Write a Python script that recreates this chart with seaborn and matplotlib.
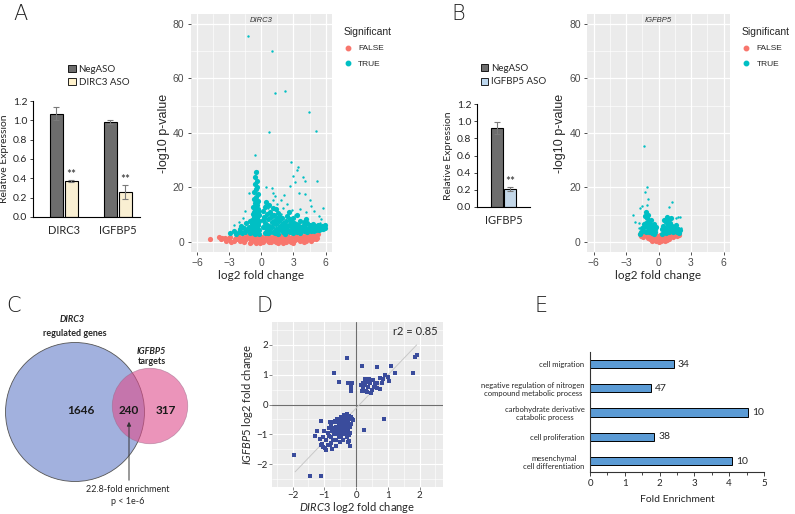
import numpy as np
import pandas as pd
import matplotlib
matplotlib.use("Agg")
import matplotlib.pyplot as plt
import seaborn as sns
from matplotlib.patches import Circle, Patch
from matplotlib.lines import Line2D

# ---------------- data ----------------
# panel A bars
genes_a = ["DIRC3", "IGFBP5"]
neg_a = [1.07, 0.98]
neg_a_err = [0.07, 0.02]
aso_a = [0.37, 0.26]
aso_a_err = [0.01, 0.07]

# panel B bars
genes_b = ["IGFBP5"]
neg_b = [0.92]
neg_b_err = [0.07]
aso_b = [0.21]
aso_b_err = [0.02]

# panel A volcano (DIRC3) - not significant band
dirc3_false_x = [-4.8, -4.0, -3.7, -3.4, -3.1, -3.3, -2.9, -2.6, -2.4, -2.2, -2.0, -1.9, -1.7, -1.5, -1.3,
                 -1.2, -1.0, -0.9, -0.7, -0.6, -0.4, -0.3, -0.2, 0.0, 0.1, 0.2, 0.3, 0.5, 0.6, 0.8, 0.9,
                 1.0, 1.2, 1.3, 1.5, 1.6, 1.8, 1.9, 2.1, 2.3, 2.4, 2.6, 2.8, 2.9, 3.1, 3.2, 3.4, 3.6, 3.7,
                 3.9, 4.1, 4.2, 4.4, 4.5, 4.7, 4.8, 5.0, 5.1, 5.3, -1.1, -2.8, 0.7, -0.5, 1.4, 2.0, 3.0,
                 -1.6, -0.1, 4.0, -2.3, -0.8, 1.7, 2.7, 3.5, 4.6, -3.0, -2.5, -1.4, 0.4, 1.1, 2.2, 3.3,
                 4.3, 5.2, -3.8, -0.35, 2.5]
dirc3_false_y = [0.9, 1.7, 1.5, 1.3, 1.0, 0.3, 1.9, 0.5, 1.4, 2.1, 0.2, 1.0, 1.8, 0.6, 2.3,
                 1.3, 0.1, 2.0, 0.8, 1.6, 0.2, 2.4, 1.1, 0.4, 1.9, -0.2, 1.2, 2.5, 0.5, 1.7, -0.1,
                 1.0, 2.2, 0.3, 1.4, -0.3, 2.0, 0.8, 1.6, 0.1, 2.4, 1.1, -0.1, 1.9, 0.6, 2.3, 1.3, 0.2, 2.6,
                 1.0, 2.0, 0.4, 2.9, 1.4, 2.5, 0.9, 2.2, 1.1, 3.0, -0.3, 0.0, 0.0, -0.4, -0.2, -0.4, -0.3,
                 0.1, -0.3, -0.2, 0.9, 1.2, 0.7, 0.5, 1.5, 0.3, 1.4, 1.0, 1.6, 1.5, 0.6, 0.8, 0.9,
                 1.0, 1.6, 1.2, 1.3, 1.8]

# panel A volcano (DIRC3) - significant cloud
dirc3_true_x = [-0.50, -0.55, -0.45, -0.60, -0.40, -0.52, -0.65, -0.35, -0.48, -0.70, -0.30, -0.58,
                -0.42, -0.75, -0.28, -0.62, -0.50, -0.80, -0.25, -0.68, -0.40, -0.85, -0.22, -0.56,
                -0.92, -0.33, -0.74, -0.46, -1.0, -0.20, -0.62, -0.88, -0.38, -1.1, -0.55, -0.18,
                -0.58, -0.45, -0.35, -0.60, -0.48, -0.72, -0.30, -0.52, -0.40, -0.78, -0.28, -0.66,
                -1.3, -1.5, -1.8, -2.1, -2.4, -1.2, -1.6, -2.0, -2.6, -2.9, -1.4, -1.1, -1.9,
                0.15, 0.25, 0.35, 0.2, 0.4, 0.3, 0.5, 0.6, 0.55, 0.7, 0.65, 0.8, 0.9, 0.95, 1.0, 1.1,
                1.2, 1.25, 1.35, 1.4, 1.5, 1.55, 1.65, 1.7, 1.8, 1.9, 2.0, 2.05, 2.15, 2.3, 2.4, 2.45,
                2.55, 2.7, 2.8, 2.9, 3.0, 3.1, 3.2, 3.35, 3.5, 3.6, 3.75, 3.9, 4.0, 4.15, 4.3, 4.4,
                4.55, 4.7, 4.8, 4.95, 5.1, 5.25, 5.4, 5.55, 5.7, 5.85, 5.95, 3.3, 2.6, 1.35, 4.2, 0.45,
                0.75, 1.05, 1.6, 2.25, 2.95, 3.65, 4.3, 4.9, 5.4, 5.8,
                0.2, 0.45, 0.7, 0.95, 1.15, 1.45, 1.75, 2.1, 2.35, 2.65, 2.85, 3.05, 3.4, 3.7, 3.95,
                4.25, 4.5, 4.75, 5.0, 5.3, 5.6, 5.9, 0.3, 0.6, 0.85, 1.3, 1.6, 1.95, 2.2, 2.5, 2.75,
                3.15, 3.45, 3.85, 4.1, 4.6, 5.15, 5.5, -0.45, -0.55, -0.35, -0.65, -0.5, -0.42, -0.6]
dirc3_true_y = [25.6, 23.8, 22.5, 21.2, 20.3, 19.4, 18.2, 17.6, 16.5, 15.8, 15.0, 14.3,
                13.5, 12.8, 12.2, 11.6, 10.9, 10.3, 9.8, 9.2, 8.7, 8.1, 7.6, 7.2,
                6.6, 6.1, 5.7, 5.2, 4.8, 4.5, 4.1, 3.7, 3.4, 3.1, 2.9, 3.0,
                12.0, 11.2, 10.5, 9.8, 8.0, 7.0, 6.8, 6.0, 4.8, 4.5, 3.8, 3.3,
                4.2, 3.6, 3.2, 3.5, 2.9, 5.5, 5.0, 4.6, 4.0, 3.2, 6.8, 7.5, 6.0,
                11.5, 9.2, 7.1, 5.3, 3.6, 12.8, 10.4, 8.3, 6.2, 4.5, 3.1, 11.0, 9.0, 7.4, 5.5, 3.8,
                9.7, 8.0, 6.4, 4.9, 3.4, 10.6, 7.5, 5.8, 4.2, 8.9, 6.9, 3.7, 5.2, 7.8, 9.6, 4.5,
                6.1, 3.5, 7.2, 5.3, 8.6, 4.1, 6.4, 3.6, 5.0, 7.6, 4.3, 6.0, 3.9, 5.1, 7.0, 4.4,
                5.6, 4.7, 6.4, 4.9, 5.4, 5.0, 5.8, 5.3, 5.9, 5.6, 6.1, 9.9, 11.0, 12.0, 8.4, 14.8,
                13.5, 12.6, 2.9, 3.0, 3.1, 3.3, 3.6, 4.0, 4.4, 4.8,
                8.0, 5.0, 6.0, 10.0, 6.8, 8.6, 9.0, 4.8, 5.9, 8.3, 4.3, 6.8, 4.6, 5.4, 7.2,
                4.2, 6.2, 5.3, 5.9, 6.3, 4.6, 5.2, 3.2, 3.4, 3.6, 3.3, 4.6, 5.8, 6.3, 3.9, 5.9,
                5.5, 6.2, 4.9, 6.4, 3.9, 4.3, 5.1, 14.8, 13.0, 11.4, 10.8, 7.6, 5.7, 4.2]

# panel A volcano (DIRC3) - isolated significant genes
dirc3_out_x = [-1.23, 0.95, 1.32, 2.19, 4.48, 5.07, 0.70, -0.63, 2.81, 3.43, 3.33, -0.45, 3.0, 3.89,
               4.11, 3.18, 5.23, 0.42, 2.65, 1.04, -1.19, 1.10, 3.49, 4.11, 1.32, 2.12, 1.1, 1.84,
               4.51, 1.5, 2.0, 2.4, 2.9, 3.6, 4.2, 4.6, 5.4, 5.6, 1.2, 0.6, 0.3, 3.1, 4.9, 1.8,
               -1.7, -2.1, -2.6, -1.5, 5.8, 5.5]
dirc3_out_y = [75.7, 70.1, 54.6, 55.4, 47.8, 40.8, 40.5, 32.0, 29.2, 27.6, 26.4, 26.1, 24.3, 23.7,
               22.3, 22.0, 22.5, 20.2, 20.4, 19.6, 18.1, 18.1, 17.9, 17.6, 16.8, 17.2, 15.3, 15.3,
               15.3, 14.0, 12.5, 13.8, 11.6, 12.2, 10.8, 13.0, 9.6, 8.3, 11.9, 12.5, 13.5, 9.8, 11.2,
               10.4, 8.6, 7.3, 6.1, 11.2, 12.6, 6.8]

# panel B volcano (IGFBP5)
igfbp5_false_x = [-1.6, -1.4, -1.2, -1.0, -0.9, -0.8, -0.65, -0.5, -0.4, -0.3, -0.25, -0.1, 0.0, 0.1,
                  0.2, 0.3, 0.4, 0.5, 0.6, 0.75, 0.85, 1.0, 1.1, 1.3, 1.5, 1.7, 1.85, -0.15, 0.15,
                  -1.75, -0.6, 0.6, -0.05, -1.3, 1.25, -0.75, 0.9]
igfbp5_false_y = [2.3, 1.8, 2.5, 1.4, 2.4, 0.9, 1.8, 0.6, 1.6, 2.2, 0.3, 1.0, 0.1, 1.2,
                  0.4, 1.9, 0.7, 2.3, 1.3, 0.8, 2.0, 1.2, 2.4, 1.7, 2.5, 2.2, 2.7, 2.3, 2.6,
                  2.8, 0.3, 0.4, 0.6, 2.9, 2.9, 2.6, 2.7]
igfbp5_true_x = [-1.4, -1.3, -1.2, -1.15, -1.1, -1.05, -1.0, -0.95, -0.9, -0.85, -0.8, -0.75, -0.7,
                 -0.65, -0.6, -0.55, -0.5, -0.45, -0.4, -0.35, -0.3, -0.25, -1.25, -1.35, -1.5, -1.6,
                 -1.7, -1.2, 0.3, 0.35, 0.45, 0.5, 0.6, 0.65, 0.7, 0.8, 0.85, 0.9, 1.0, 1.05, 1.1,
                 1.2, 1.25, 1.35, 1.4, 1.5, 1.6, 1.7, 1.8, 1.9, 2.0, 1.15, 0.55, 0.75]
igfbp5_true_y = [4.0, 5.5, 3.5, 7.0, 8.9, 6.0, 4.5, 10.0, 7.8, 3.6, 5.2, 6.6, 4.2,
                 8.2, 3.3, 5.5, 4.0, 6.5, 3.0, 4.8, 3.5, 5.3, 9.5, 6.4, 5.0, 3.8,
                 3.0, 11.0, 3.0, 4.6, 6.0, 3.6, 5.0, 7.2, 3.3, 4.4, 6.3, 8.3, 3.7, 5.4, 7.0,
                 4.2, 6.0, 3.5, 5.0, 4.2, 6.2, 3.8, 4.8, 3.4, 4.3, 8.8, 8.0, 9.1]
igfbp5_out_x = [-1.36, -1.04, -1.26, -0.95, -1.51, -1.07, -1.67, -2.33, -2.2, -1.8, -1.83,
                1.2, 0.95, 1.99, 1.83, 2.1, 1.58]
igfbp5_out_y = [35.0, 20.1, 18.2, 15.9, 13.0, 13.7, 12.4, 10.0, 7.3, 7.0, 5.0,
                14.5, 12.8, 9.1, 9.1, 5.1, 8.8]

# panel C venn
venn_labels = ["DIRC3 only", "both", "IGFBP5 only"]
venn_counts = [1646, 240, 317]

# panel D scatter
d_x = [-0.29, 0.2, 0.65, 1.09, 1.86, 1.92, 1.79, -0.69, 1.23, 0.92, 1.02, 1.05, 0.81, -0.55, -0.27,
       -0.14, -0.17, -0.16, 0.28, 0.36, 0.44, 0.53, 0.6, 0.67, 0.39, 0.23, 0.32, 0.18, 0.49, 0.65,
       0.76, 0.55, 0.28, 0.15, 0.42, 0.74, 0.86, 0.36, 0.21, 0.46, 0.89, 0.25,
       -1.96, -1.45, -1.09, -0.95, -0.75, -1.07, -1.05, -1.28, -1.14, -1.22, -1.12, -0.82, -0.63,
       -0.21, -0.19, -0.21, -0.11,
       -0.9, -0.85, -0.8, -0.78, -0.75, -0.72, -0.7, -0.68, -0.65, -0.62, -0.6, -0.58, -0.55, -0.55,
       -0.52, -0.5, -0.5, -0.48, -0.46, -0.45, -0.44, -0.42, -0.4, -0.4, -0.38, -0.36, -0.35, -0.33,
       -0.32, -0.3, -0.3, -0.28, -0.26, -0.25, -0.24, -0.22, -0.2, -0.2, -0.18, -0.16, -0.15, -0.12,
       -0.95, -1.0, -1.05, -0.88, -0.62, -0.58, -0.66, -0.5, -0.42, -0.34, -0.27, -0.7, -0.82, -0.38,
       -0.28, -0.48, -0.56, -0.64, -0.46, -0.36, -0.32, -0.42, -0.52, -0.6, -0.74, -0.86, -0.78,
       -0.98, -1.1]
d_y = [1.55, 1.3, 1.25, 1.3, 1.61, 1.65, 1.07, 1.07, 1.05, 0.99, 0.91, 0.8, 0.71, 0.77, 0.73,
       0.73, 0.6, 0.45, 0.85, 0.77, 0.71, 0.82, 0.68, 0.73, 0.6, 0.54, 0.46, 0.45, 0.48, 0.54,
       0.51, 0.6, 0.66, 0.66, 0.85, 0.88, 0.85, 0.43, 0.71, 0.4, -0.5, -0.84,
       -1.68, -2.39, -2.4, -1.53, -1.51, -1.33, -1.44, -1.05, -1.17, -0.88, -0.55, -1.36, -1.2,
       -1.22, -1.4, -1.03, -0.52,
       -0.95, -0.8, -1.1, -0.7, -0.9, -1.2, -0.6, -0.85, -1.0, -0.75, -0.5, -0.9, -1.1, -0.65,
       -0.8, -0.55, -0.95, -0.7, -1.05, -0.45, -0.85, -0.6, -0.75, -1.0, -0.5, -0.9, -0.65, -0.4,
       -0.8, -0.55, -1.1, -0.7, -0.45, -0.9, -0.6, -0.38, -0.75, -0.5, -0.95, -0.42, -0.65, -0.48,
       -1.2, -0.9, -1.1, -1.35, -1.4, -0.58, -0.55, -1.25, -1.2, -1.0, -1.25, -1.0, -0.6, -0.35,
       -0.33, -0.42, -0.75, -0.88, -0.62, -0.72, -0.58, -0.9, -0.68, -0.95, -0.78, -1.05, -1.3,
       -1.45, -1.35]
fit_x = [-1.92, 1.91]
fit_y = [-2.26, 2.0]
r2_text = "r2 = 0.85"

# panel E GO enrichment
go_terms = ["cell migration",
            "negative regulation of nitrogen\ncompound metabolic process",
            "carbohydrate derivative\ncatabolic process",
            "cell proliferation",
            "mesenchymal\ncell differentiation"]
go_fold = [2.4, 1.74, 4.54, 1.84, 4.08]
go_count = [34, 47, 10, 38, 10]

# ---------------- style ----------------
RED = "#F8766D"
TEAL = "#00BFC4"
ARIAL = ["Liberation Sans", "DejaVu Sans"]
W, H = 795, 514

sns.set_theme(style="white")
plt.rcParams["font.family"] = ["Lato", "DejaVu Sans"]
plt.rcParams["mathtext.fontset"] = "custom"
plt.rcParams["mathtext.rm"] = "Lato"
plt.rcParams["mathtext.it"] = "Lato:italic"

fig = plt.figure(figsize=(W / 100, H / 100), dpi=100)


def rect(x0, y0, x1, y1):
    return [x0 / W, 1 - y1 / H, (x1 - x0) / W, (y1 - y0) / H]


def letter(x, y, s):
    fig.text(x / W, 1 - y / H, s, fontsize=15, ha="center", va="center", color="#222222",
             family=["DejaVu Sans"], fontweight=200)


def bar_panel(ax, genes, neg, neg_err, aso, aso_err, aso_label, aso_color):
    df = pd.DataFrame({"gene": genes * 2,
                       "cond": ["NegASO"] * len(genes) + [aso_label] * len(genes),
                       "expr": neg + aso})
    width = 0.55 if len(genes) > 1 else 0.5
    sns.barplot(data=df, x="gene", y="expr", hue="cond", palette=["#6d6d6d", aso_color],
                width=width, gap=0.1, edgecolor="black", linewidth=0.8, errorbar=None,
                legend=False, ax=ax)
    for cont, errs in zip(ax.containers, [neg_err, aso_err]):
        for bar, e in zip(cont, errs):
            cx = bar.get_x() + bar.get_width() / 2
            ax.errorbar(cx, bar.get_height(), yerr=e, color="#7a7a7a", capsize=2,
                        elinewidth=0.8, capthick=0.8)
    for bar, e in zip(ax.containers[1], aso_err):
        cx = bar.get_x() + bar.get_width() / 2
        ax.text(cx, bar.get_height() + e + 0.005, "**", ha="center", va="bottom", fontsize=8.5)
    ax.set_ylim(0, 1.2)
    ax.set_yticks([0, 0.2, 0.4, 0.6, 0.8, 1.0, 1.2])
    ax.set_yticklabels([f"{v:.1f}" for v in [0, 0.2, 0.4, 0.6, 0.8, 1.0, 1.2]])
    ax.set_xlabel("")
    ax.set_ylabel("Relative Expression", fontsize=7.5, labelpad=3)
    for s in ["top", "right"]:
        ax.spines[s].set_visible(False)
    for s in ["left", "bottom"]:
        ax.spines[s].set_color("black")
        ax.spines[s].set_linewidth(0.8)
    ax.tick_params(axis="y", length=2, width=0.6, labelsize=7.5, pad=2, left=True)
    ax.tick_params(axis="x", length=0, labelsize=8, pad=6)
    handles = [Patch(facecolor="#6d6d6d", edgecolor="black", linewidth=0.6),
               Patch(facecolor=aso_color, edgecolor="black", linewidth=0.6)]
    return handles


def volcano(ax, fx, fy, tx, ty, ox, oy, title):
    df_f = pd.DataFrame({"lfc": fx, "logp": fy})
    df_t = pd.DataFrame({"lfc": tx, "logp": ty})
    df_o = pd.DataFrame({"lfc": ox, "logp": oy})
    ax.set_facecolor("#ebebeb")
    sns.scatterplot(data=df_f, x="lfc", y="logp", color=RED, s=14, linewidth=0, ax=ax)
    sns.scatterplot(data=df_t, x="lfc", y="logp", color=TEAL, s=14, linewidth=0, ax=ax)
    sns.scatterplot(data=df_o, x="lfc", y="logp", color=TEAL, s=3, linewidth=0, ax=ax)
    ax.set_xlim(-6.6, 6.6)
    ax.set_ylim(-3.7, 83.6)
    ax.set_xticks([-6, -3, 0, 3, 6])
    ax.set_xticks([-4.5, -1.5, 1.5, 4.5], minor=True)
    ax.set_yticks([0, 20, 40, 60, 80])
    ax.set_yticks([10, 30, 50, 70], minor=True)
    ax.grid(which="major", color="white", linewidth=0.9)
    ax.grid(which="minor", color="white", linewidth=0.45)
    ax.set_axisbelow(True)
    for s in ax.spines.values():
        s.set_visible(False)
    ax.tick_params(which="major", length=2.5, width=0.6, color="#333333", labelsize=7.5,
                   labelcolor="#4d4d4d", pad=2, bottom=True, left=True)
    ax.tick_params(which="minor", length=0)
    for lab in ax.get_xticklabels() + ax.get_yticklabels():
        lab.set_family(ARIAL)
    ax.set_xlabel("log2 fold change", fontsize=8.5, labelpad=1)
    ax.set_ylabel("-log10 p-value", fontsize=9, family=ARIAL, labelpad=2)
    ax.text(0.5, 0.972, title, transform=ax.transAxes, ha="center", va="center",
            fontsize=5.5, style="italic", color="#333333", family=ARIAL)
    handles = [Line2D([], [], marker="o", ls="", color=RED, markersize=3.2),
               Line2D([], [], marker="o", ls="", color=TEAL, markersize=3.2)]
    leg = ax.legend(handles, ["FALSE", "TRUE"], title="Significant", loc="upper left",
                    bbox_to_anchor=(1.08, 0.945), frameon=False, fontsize=6,
                    title_fontsize=7.5, alignment="left", handletextpad=0.6,
                    labelspacing=0.9, borderaxespad=0, borderpad=0, handlelength=1.2)
    for t in leg.get_texts() + [leg.get_title()]:
        t.set_family(ARIAL)


# ---------------- panel A ----------------
ax_a = fig.add_axes(rect(33, 101, 140, 217))
h = bar_panel(ax_a, genes_a, neg_a, neg_a_err, aso_a, aso_a_err, "DIRC3 ASO", "#fff2cc")
ax_a.set_xlim(-0.57, 1.41)
ax_a.legend(h, ["NegASO", "DIRC3 ASO"], loc="lower left", bbox_to_anchor=(0.33, 1.12),
            frameon=False, fontsize=7, handlelength=0.75, handleheight=0.75,
            handletextpad=0.3, labelspacing=0.45, borderaxespad=0, borderpad=0)

ax_va = fig.add_axes(rect(190.7, 14, 332, 252))
volcano(ax_va, dirc3_false_x, dirc3_false_y, dirc3_true_x, dirc3_true_y,
        dirc3_out_x, dirc3_out_y, "DIRC3")

# ---------------- panel B ----------------
ax_b = fig.add_axes(rect(477, 104, 530, 207))
h = bar_panel(ax_b, genes_b, neg_b, neg_b_err, aso_b, aso_b_err, "IGFBP5 ASO", "#bdd7ee")
ax_b.set_xlim(-0.5, 0.5)
ax_b.legend(h, ["NegASO", "IGFBP5 ASO"], loc="lower left", bbox_to_anchor=(0.07, 1.17),
            frameon=False, fontsize=7, handlelength=0.75, handleheight=0.75,
            handletextpad=0.3, labelspacing=0.45, borderaxespad=0, borderpad=0)

ax_vb = fig.add_axes(rect(587, 14, 730, 252))
volcano(ax_vb, igfbp5_false_x, igfbp5_false_y, igfbp5_true_x, igfbp5_true_y,
        igfbp5_out_x, igfbp5_out_y, "IGFBP5")

# ---------------- panel C (venn) ----------------
ax_c = fig.add_axes(rect(0, 270, 260, 514))
ax_c.set_xlim(0, 260)
ax_c.set_ylim(514, 270)
ax_c.axis("off")
k = 1.6
r_big = k * np.sqrt(venn_counts[0] + venn_counts[1])
r_small = k * np.sqrt(venn_counts[1] + venn_counts[2])
ax_c.add_patch(Circle((75, 412), r_big, facecolor="#a2b1de", edgecolor="#555555", linewidth=0.6))
ax_c.add_patch(Circle((150, 406), r_small, facecolor="#de4d8c", alpha=0.6,
                      edgecolor="#9a6a8a", linewidth=0.5))
for xc, cnt in zip([81, 129, 166], venn_counts):
    ax_c.text(xc, 410, str(cnt), ha="center", va="center", fontsize=8.5, fontweight="bold",
              color="#1a1a1a")
ax_c.text(72, 320, "DIRC3", ha="center", va="center", fontsize=6.5, fontweight="bold",
          style="italic")
ax_c.text(75, 334, "regulated genes", ha="center", va="center", fontsize=6.5, fontweight="bold")
ax_c.text(151, 352, "IGFBP5", ha="center", va="center", fontsize=6.5, fontweight="bold",
          style="italic")
ax_c.text(152, 362, "targets", ha="center", va="center", fontsize=6.5, fontweight="bold")
ax_c.annotate("", xy=(129, 419), xytext=(129, 483),
              arrowprops=dict(arrowstyle="-|>", color="#333333", lw=0.7, mutation_scale=6))
ax_c.text(128, 489, "22.8-fold enrichment", ha="center", va="center", fontsize=6.5)
ax_c.text(128, 501, "p < 1e-6", ha="center", va="center", fontsize=6.5)

# ---------------- panel D ----------------
ax_d = fig.add_axes(rect(272, 322, 443, 487))
ax_d.set_facecolor("#ebebeb")
ax_d.axhline(0, color="#6e6e6e", lw=0.8, zorder=1)
ax_d.axvline(0, color="#6e6e6e", lw=0.8, zorder=1)
ax_d.plot(fit_x, fit_y, color="#c8c8c8", lw=0.7, zorder=1)
sns.scatterplot(x=d_x, y=d_y, color="#3a4c9c", s=5, marker="s", linewidth=0, ax=ax_d, zorder=3)
ax_d.set_xlim(-2.65, 2.74)
ax_d.set_ylim(-2.77, 2.77)
ax_d.set_xticks([-2, -1, 0, 1, 2])
ax_d.set_xticks([-2.5, -1.5, -0.5, 0.5, 1.5, 2.5], minor=True)
ax_d.set_yticks([-2, -1, 0, 1, 2])
ax_d.set_yticks([-2.5, -1.5, -0.5, 0.5, 1.5, 2.5], minor=True)
ax_d.grid(which="major", color="white", linewidth=0.8)
ax_d.grid(which="minor", color="white", linewidth=0.4)
ax_d.set_axisbelow(True)
for s in ax_d.spines.values():
    s.set_visible(False)
ax_d.tick_params(which="major", length=2, width=0.5, color="#555555", labelsize=7, pad=1,
                 bottom=True, left=True)
ax_d.tick_params(which="minor", length=0)
ax_d.set_xlabel(r"$\it{DIRC3}$ log2 fold change", fontsize=8, labelpad=0)
ax_d.set_ylabel(r"$\it{IGFBP5}$ log2 fold change", fontsize=8, labelpad=1)
ax_d.text(0.97, 0.94, r2_text, transform=ax_d.transAxes, ha="right", va="center", fontsize=8)

# ---------------- panel E ----------------
ax_e = fig.add_axes(rect(590, 352, 764, 472))
df_e = pd.DataFrame({"term": go_terms, "fold": go_fold, "count": go_count})
sns.barplot(data=df_e, y="term", x="fold", orient="h", color="#5b9bd5", saturation=1,
            edgecolor="black", linewidth=0.7, width=0.34, ax=ax_e)
ax_e.bar_label(ax_e.containers[0], labels=[str(c) for c in go_count], padding=3, fontsize=7.5)
ax_e.set_xlim(0, 5)
ax_e.set_ylim(4.45, -0.5)
ax_e.set_xticks([0, 1, 2, 3, 4, 5])
ax_e.set_xticks([0.5, 1.5, 2.5, 3.5, 4.5], minor=True)
ax_e.set_xlabel("Fold Enrichment", fontsize=7.5, labelpad=5)
ax_e.set_ylabel("")
for s in ["top", "right"]:
    ax_e.spines[s].set_visible(False)
for s in ["left", "bottom"]:
    ax_e.spines[s].set_color("#333333")
    ax_e.spines[s].set_linewidth(0.8)
ax_e.tick_params(axis="x", which="major", length=3, width=0.6, labelsize=7, bottom=True, pad=2)
ax_e.tick_params(axis="x", which="minor", length=2, width=0.6, bottom=True)
ax_e.tick_params(axis="y", length=0, labelsize=5.5, pad=4)
for lab in ax_e.get_yticklabels():
    lab.set_multialignment("center")

# ---------------- panel letters ----------------
letter(20, 14, "A")
letter(458, 14, "B")
letter(14, 306, "C")
letter(265, 306, "D")
letter(541, 306, "E")

fig.savefig("out.png", dpi=100, facecolor="white")
